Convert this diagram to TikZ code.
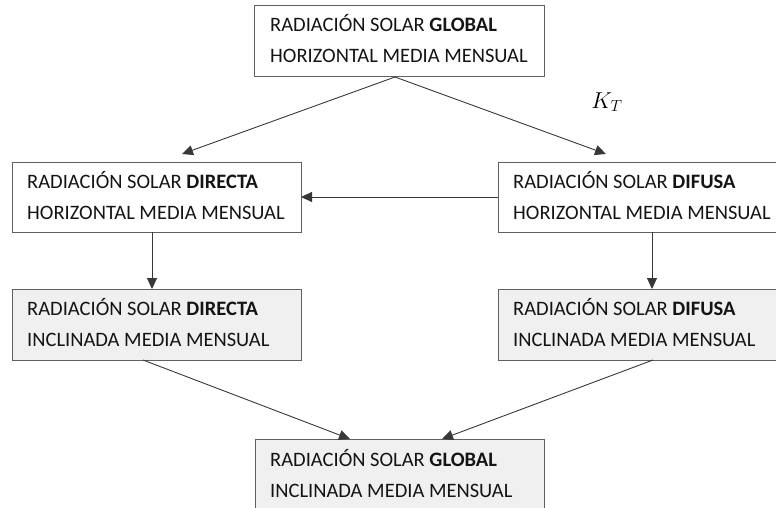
\RequirePackage{fix-cm}
\documentclass[tikz,border=0pt]{standalone}
\usepackage{fontspec}
\setmainfont{Carlito}
\usetikzlibrary{arrows.meta,calc}
\definecolor{boxline}{HTML}{606060}
\definecolor{boxfill}{HTML}{F0F0F0}
\definecolor{arrline}{HTML}{383838}
\begin{document}
\begin{tikzpicture}[x=1pt,y=-1pt,
  box/.style={draw=boxline, line width=1pt, anchor=north west, inner sep=0pt, outer sep=0pt},
  graybox/.style={box, fill=boxfill},
  txt/.style={anchor=base west, inner sep=0pt, font=\fontsize{20.5}{24}\selectfont, text=black!92},
  arr/.style={draw=arrline, line width=0.9pt, -{Triangle[length=11pt,width=10pt]}}]
\useasboundingbox (0,0) rectangle (776,508);
\clip (0,0) rectangle (776,508);
% boxes
\node[box, minimum width=290pt, minimum height=71pt] (top) at (254,6) {};
\node[box, minimum width=289pt, minimum height=70pt] (dirH) at (12,162) {};
\node[box, minimum width=292pt, minimum height=70pt] (difH) at (498,162) {};
\node[graybox, minimum width=289pt, minimum height=71pt] (dirI) at (12,289) {};
\node[graybox, minimum width=292pt, minimum height=71pt] (difI) at (498,289) {};
\node[graybox, minimum width=289pt, minimum height=81pt] (bot) at (255,439) {};
% texts
\node[txt] (top1) at (270,32) {RADIACIÓN SOLAR \textbf{GLOBAL}};
\node[txt] (top2) at (270,63) {HORIZONTAL MEDIA MENSUAL};
\node[txt] (dirH1) at (27,188) {RADIACIÓN SOLAR \textbf{DIRECTA}};
\node[txt] (dirH2) at (27,219) {HORIZONTAL MEDIA MENSUAL};
\node[txt] (difH1) at (513,188) {RADIACIÓN SOLAR \textbf{DIFUSA}};
\node[txt] (difH2) at (513,219) {HORIZONTAL MEDIA MENSUAL};
\node[txt] (dirI1) at (27,315) {RADIACIÓN SOLAR \textbf{DIRECTA}};
\node[txt] (dirI2) at (27,346) {INCLINADA MEDIA MENSUAL};
\node[txt] (difI1) at (513,315) {RADIACIÓN SOLAR \textbf{DIFUSA}};
\node[txt] (difI2) at (513,346) {INCLINADA MEDIA MENSUAL};
\node[txt] (bot1) at (270,466) {RADIACIÓN SOLAR \textbf{GLOBAL}};
\node[txt] (bot2) at (270,497) {INCLINADA MEDIA MENSUAL};
\node[inner sep=0pt, font=\fontsize{23}{26}\selectfont] (kt) at (607,102) {$K_T$};
% connectors
\coordinate (apex) at ($(top.south west)+(141,0)$);
\draw[arr] (apex) -- ($(dirH.north west)+(170,-8)$);
\draw[arr] (apex) -- ($(difH.north west)+(108,-8)$);
\draw[arr] (difH.west) -- (dirH.east);
\draw[arr] ($(dirH.south west)+(140,0)$) -- ($(dirI.north west)+(140,0)$);
\draw[arr] ($(difH.south west)+(154,0)$) -- ($(difI.north west)+(154,0)$);
\draw[arr] ($(dirI.south west)+(131,0)$) -- ($(bot.north west)+(95,0)$);
\draw[arr] ($(difI.south west)+(155,0)$) -- ($(bot.north west)+(187,0)$);
\end{tikzpicture}
\end{document}
